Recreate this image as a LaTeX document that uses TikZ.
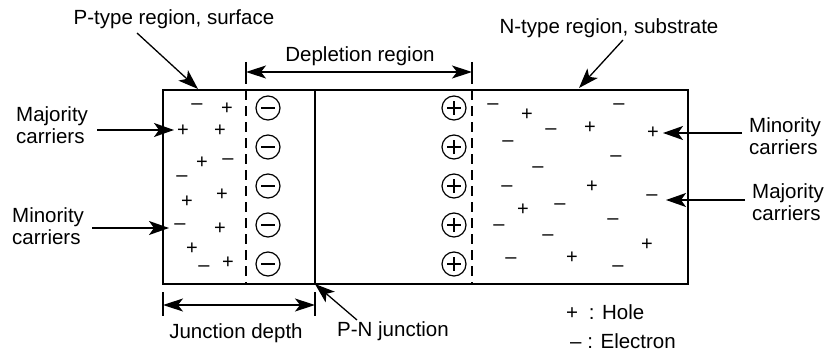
\documentclass[tikz,border=0pt]{standalone}
\usepackage{fontspec}
\setmainfont{Liberation Sans}
\usetikzlibrary{arrows.meta}
\begin{document}
\begin{tikzpicture}[x=1pt,y=-1pt,
  lbl/.style={font=\fontsize{20.5}{22.5}\selectfont, inner sep=0pt, align=left},
  chg/.style={font=\fontsize{20}{22}\selectfont, inner sep=0pt},
  ion/.style={draw, circle, line width=1.2pt, minimum size=24pt, inner sep=0pt},
  tip/.style={Stealth[length=20pt,width=14pt,inset=5pt]},
  arr/.style={line width=1.3pt, -{Stealth[length=20pt,width=14pt,inset=5pt]}},
  darr/.style={line width=1.3pt, {Stealth[length=20pt,width=13pt,inset=5pt]}-{Stealth[length=20pt,width=13pt,inset=5pt]}},
  bnd/.style={line width=1.4pt, dash pattern=on 10pt off 6pt},
  tick/.style={line width=1.4pt}]
\useasboundingbox (0,0) rectangle (825,353);
% box
\coordinate (tl) at (163,90);
\coordinate (br) at (688,284);
\draw[line width=1.6pt] (tl) rectangle (br);
\coordinate (jt) at (315,90);
\coordinate (jb) at (315,284);
\draw[line width=1.6pt] (jt) -- (jb);
% depletion boundaries
\coordinate (dlt) at (246,62);
\coordinate (dlm) at (246,84);
\coordinate (dlb) at (246,284);
\coordinate (drt) at (472,62);
\coordinate (drm) at (472,84);
\coordinate (drb) at (472,284);
\draw[tick] (dlt) -- (dlm);
\draw[tick] (drt) -- (drm);
\draw[bnd] (246,90) -- (dlb);
\draw[bnd] (472,90) -- (drb);
\coordinate (dla) at (246,72);
\coordinate (dra) at (472,72);
\draw[darr] (dla) -- (dra);
\node[lbl] (dep) at (360,56) {Depletion region};
% ions
\foreach \y [count=\i] in {108,147,186,225,264} {
  \node[ion] (neg\i) at (268,\y) {};
  \draw[line width=1.2pt] ([xshift=-7pt]neg\i.center) -- ([xshift=7pt]neg\i.center);
  \node[ion] (pos\i) at (454,\y) {};
  \draw[line width=1.2pt] ([xshift=-7pt]pos\i.center) -- ([xshift=7pt]pos\i.center);
  \draw[line width=1.2pt] ([yshift=-7pt]pos\i.center) -- ([yshift=7pt]pos\i.center);
}
% P-region charges
\foreach \x/\y [count=\i] in {227/109,183/131,220/131,202/163,187/202,222/195,220/229,192/249,228/263} {
  \node[chg] (ph\i) at (\x,\y) {+};
}
\foreach \x/\y [count=\i] in {197/107,228/162,182/179,180/227,204/269} {
  \node[chg] (pe\i) at (\x,\y) {–};
}
% N-region charges
\foreach \x/\y [count=\i] in {527/115,590/128,653/133,592/187,523/210,647/245,572/258} {
  \node[chg] (nh\i) at (\x,\y) {+};
}
\foreach \x/\y [count=\i] in {493/107,619/107,551/132,508/144,616/159,538/170,507/189,652/198,560/207,499/228,613/222,548/238,511/261,618/269} {
  \node[chg] (ne\i) at (\x,\y) {–};
}
% labels and arrows
\node[lbl] (ptype) at (174,19) {P-type region, surface};
\coordinate (ptypeS) at (137,33);
\coordinate (ptypeE) at (198,89);
\draw[arr] (ptypeS) -- (ptypeE);
\node[lbl] (ntype) at (609,28) {N-type region, substrate};
\coordinate (ntypeS) at (623,40);
\coordinate (ntypeE) at (579,88);
\draw[arr] (ntypeS) -- (ntypeE);
\node[lbl, anchor=west] (majL) at (16,125) {Majority\\carriers};
\coordinate (majLs) at (97,130);
\coordinate (majLe) at (174,130);
\draw[arr] (majLs) -- (majLe);
\node[lbl, anchor=west] (minL) at (12,226) {Minority\\carriers};
\coordinate (minLs) at (92,228);
\coordinate (minLe) at (169,228);
\draw[arr] (minLs) -- (minLe);
\node[lbl, anchor=west] (minR) at (749,136) {Minority\\carriers};
\coordinate (minRs) at (742,133);
\coordinate (minRe) at (663,133);
\draw[arr] (minRs) -- (minRe);
\node[lbl, anchor=west] (majR) at (752,202) {Majority\\carriers};
\coordinate (majRs) at (745,200);
\coordinate (majRe) at (666,200);
\draw[arr] (majRs) -- (majRe);
% junction depth
\coordinate (jdl) at (163,305);
\coordinate (jdr) at (315,305);
\draw[tick] (163,292) -- (163,316);
\draw[tick] (315,292) -- (315,316);
\draw[darr] (jdl) -- (jdr);
\node[lbl] (jdepth) at (236,333) {Junction depth};
% P-N junction
\node[lbl] (pnj) at (393,331) {P-N junction};
\coordinate (pnS) at (357,320);
\draw[arr] (pnS) -- (jb);
% legend
\node[lbl, anchor=west] (lh) at (566,312) {+\hspace{5pt} : Hole};
\node[lbl, anchor=west] (le) at (570,341) {– : Electron};
\end{tikzpicture}
\end{document}
